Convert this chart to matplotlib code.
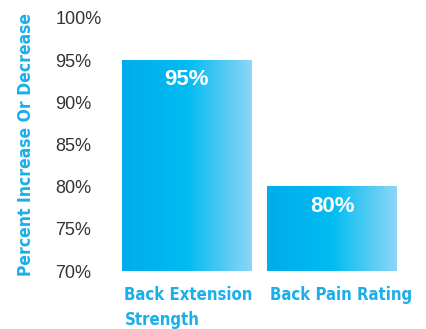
import matplotlib
matplotlib.use("Agg")
import matplotlib.pyplot as plt
import numpy as np
from matplotlib.colors import LinearSegmentedColormap

# values
categories = ["Back Extension\nStrength", "Back Pain Rating"]
values = [95, 80]
value_labels = ["95%", "80%"]
yticks = [70, 75, 80, 85, 90, 95, 100]
ytick_labels = ["70%", "75%", "80%", "85%", "90%", "95%", "100%"]

blue = "#1AAFEA"
narrow = ["DejaVu Sans"]
grad = LinearSegmentedColormap.from_list(
    "bar", ["#00ACEC", "#00BCF1", "#8ED5F6"])

W, H = 426, 329
fig = plt.figure(figsize=(W / 100, H / 100), dpi=100)
# axes placed in pixel terms: y=70 at 271px from top, y=100 at 18px
ax = fig.add_axes([115 / W, (H - 271) / H, 300 / W, 253 / H])

width = 0.89
gradient = np.linspace(0, 1, 256).reshape(1, -1)
for i, v in enumerate(values):
    x0 = i - width / 2
    ax.imshow(gradient, cmap=grad, aspect="auto",
              extent=(x0, x0 + width, 70, v), zorder=2)
    ax.annotate(value_labels[i], xy=(i, v), xytext=(0, -14),
                textcoords="offset points", ha="center", va="center",
                color="white", fontsize=16, fontweight="bold",
                family=["Liberation Sans", "DejaVu Sans"])
    ax.annotate(categories[i], xy=(x0, 0), xycoords=ax.get_xaxis_transform(),
                xytext=(2, -11), textcoords="offset points", ha="left",
                va="top", color=blue, fontsize=12, fontweight="bold",
                family=narrow, fontstretch="condensed", linespacing=1.5)

ax.set_xlim(-0.491, 1.570)
ax.set_ylim(70, 100)
ax.set_yticks(yticks)
ax.set_yticklabels(ytick_labels, family=["Liberation Sans", "DejaVu Sans"],
                   fontsize=13, color="#333333", ha="left")
ax.tick_params(axis="y", length=0, pad=43)
ax.set_xticks([])
for s in ax.spines.values():
    s.set_visible(False)

fig.text(26 / W, (H - 145) / H, "Percent Increase Or Decrease", rotation=90,
         ha="center", va="center", color=blue, fontsize=12.5,
         fontweight="bold", family=narrow, fontstretch="condensed")

fig.savefig("out.png", dpi=100)
